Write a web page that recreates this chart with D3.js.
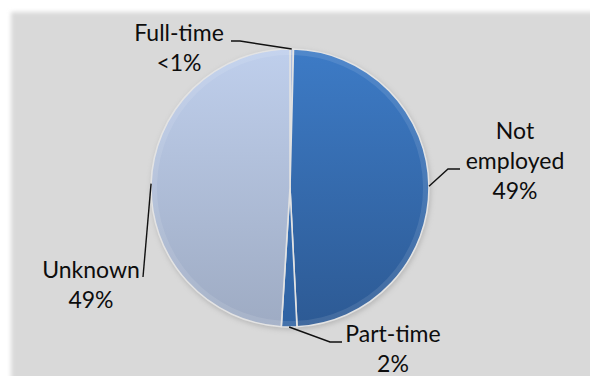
<!DOCTYPE html>
<html>
<head>
<meta charset="utf-8">
<script src="https://cdn.jsdelivr.net/npm/d3@7"></script>
<style>
  html, body { margin: 0; padding: 0; background: #ffffff; }
  svg { display: block; }
  text { font-family: Lato, "Open Sans", sans-serif; fill: #0d0d0d; }
</style>
</head>
<body>
<svg id="chart" width="590" height="376"></svg>
<script>
// ---- data ----
const categories = ["Full-time", "Not employed", "Part-time", "Unknown"];
const values = [0.4, 48.8, 1.8, 49.0];
const valueLabels = ["<1%", "49%", "2%", "49%"];
const nameLines = [["Full-time"], ["Not", "employed"], ["Part-time"], ["Unknown"]];

// ---- layout ----
const W = 590, H = 376;
const cx = 290, cy = 188, R = 139;
const svg = d3.select("#chart");
const defs = svg.append("defs");

// background panel with soft edge
const blur = defs.append("filter").attr("id", "soft").attr("x", "-5%").attr("y", "-5%").attr("width", "110%").attr("height", "110%");
blur.append("feGaussianBlur").attr("stdDeviation", 2.2);
svg.append("rect").attr("x", 11).attr("y", 12).attr("width", W + 20).attr("height", H + 20)
  .attr("fill", "#d9d9d9").attr("filter", "url(#soft)");

// gradients (in the pie group's local coordinates)
function vgrad(id, top, bottom) {
  const g = defs.append("linearGradient").attr("id", id)
    .attr("gradientUnits", "userSpaceOnUse")
    .attr("x1", 0).attr("y1", -R).attr("x2", 0).attr("y2", R);
  g.append("stop").attr("offset", "0%").attr("stop-color", top);
  g.append("stop").attr("offset", "100%").attr("stop-color", bottom);
}
vgrad("gFull", "#aebfe0", "#98a8c4");
vgrad("gNot", "#3d7bc6", "#2d5a94");
vgrad("gPart", "#3d7bc6", "#2f62a2");
vgrad("gUnk", "#bfcfec", "#9eabc3");
const fills = ["url(#gFull)", "url(#gNot)", "url(#gPart)", "url(#gUnk)"];

const pie = d3.pie().sort(null).value(d => d)(values);
const arc = d3.arc().innerRadius(0).outerRadius(R);
const rimArc = d3.arc().innerRadius(R - 6).outerRadius(R);

// shadow
const sh = defs.append("filter").attr("id", "shadow").attr("x", "-10%").attr("y", "-10%").attr("width", "120%").attr("height", "120%");
sh.append("feGaussianBlur").attr("stdDeviation", 2.5);
svg.append("circle").attr("cx", cx + 1).attr("cy", cy + 2).attr("r", R + 1)
  .attr("fill", "#9a9a9a").attr("opacity", 0.5).attr("filter", "url(#shadow)");

const g = svg.append("g").attr("transform", `translate(${cx},${cy})`);
g.selectAll("path.slice").data(pie).join("path")
  .attr("class", "slice")
  .attr("d", arc)
  .attr("fill", (d, i) => fills[i])
  .attr("stroke", "#e2e2e2").attr("stroke-width", 1.6).attr("stroke-linejoin", "round");

// subtle bevel highlight on rim
g.selectAll("path.rim").data(pie).join("path")
  .attr("class", "rim")
  .attr("d", rimArc)
  .attr("fill", "#ffffff").attr("opacity", 0.1);

// ---- labels & leader lines ----
const labelPos = [
  { x: 179, y: 41, anchor: "middle", line: [[231, 41], [240, 41]] },
  { x: 515, y: 139, anchor: "middle", line: [[460, 169], [448, 169]] },
  { x: 393, y: 342, anchor: "middle", line: [[342, 342], [330, 342]] },
  { x: 91, y: 278, anchor: "middle", line: [[143, 277], [143, 277]] }
];
const lineH = 30;
const fontSize = 23;

pie.forEach((d, i) => {
  const mid = (d.startAngle + d.endAngle) / 2;
  const px = cx + Math.sin(mid) * R;
  const py = cy - Math.cos(mid) * R;
  const lp = labelPos[i];
  const pts = [lp.line[0], lp.line[1], [px, py]];
  svg.append("path").attr("d", d3.line()(pts))
    .attr("fill", "none").attr("stroke", "#111").attr("stroke-width", 1.4);

  const lines = nameLines[i].concat([valueLabels[i]]);
  const t = svg.append("text").attr("text-anchor", lp.anchor).attr("font-size", fontSize);
  lines.forEach((s, k) => {
    t.append("tspan").attr("x", lp.x).attr("y", lp.y + k * lineH).text(s);
  });
});
</script>
</body>
</html>
